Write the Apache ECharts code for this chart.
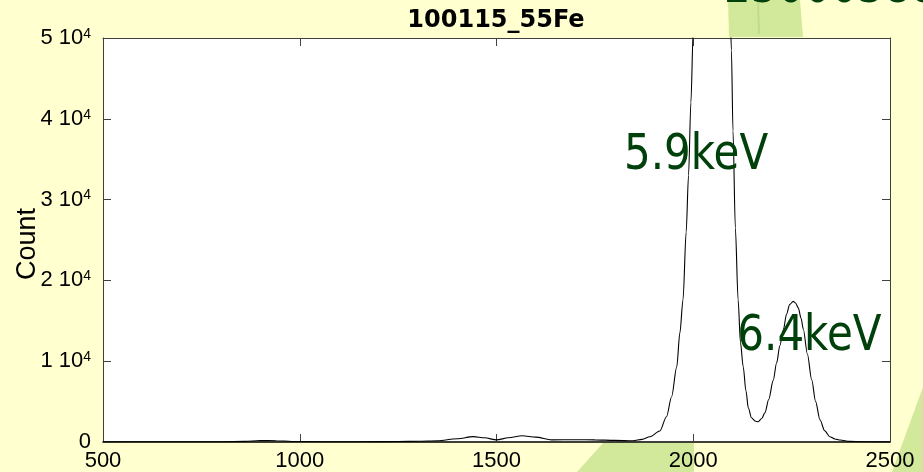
<!DOCTYPE html>
<html>
<head>
<meta charset="utf-8">
<script src="https://cdn.jsdelivr.net/npm/echarts@6/dist/echarts.min.js"></script>
<style>
html,body{margin:0;padding:0;background:#FFFFD0;}
#c{width:923px;height:472px;}
</style>
</head>
<body>
<div id="c"></div>
<script>
// ---- data ----
const titleText = '100115_55Fe';
const yAxisName = 'Count';
const xTicks = [500, 1000, 1500, 2000, 2500];
const yTicks = [0, 10000, 20000, 30000, 40000, 50000];

const channels = [500, 600, 700, 800, 860, 900, 940, 980, 1050, 1150, 1250, 1300, 1350, 1400,
  1441, 1470, 1500, 1530, 1565, 1600, 1640, 1700, 1750, 1800, 1847, 1870, 1890, 1915, 1932,
  1945, 1958, 1966, 1974, 1982, 1988, 1994, 2000, 2010, 2020, 2030, 2040, 2047, 2055, 2065,
  2075, 2085, 2093, 2097, 2101, 2107, 2114, 2120, 2127, 2134, 2140, 2148, 2157, 2165, 2174,
  2182, 2192, 2203, 2212, 2220, 2229, 2237, 2245, 2254, 2260, 2267, 2274, 2280, 2290, 2301,
  2311, 2322, 2334, 2347, 2360, 2373, 2398, 2430, 2470, 2500];
const counts = [20, 25, 30, 40, 80, 180, 160, 70, 40, 40, 60, 90, 160, 400,
  660, 520, 260, 520, 780, 600, 260, 280, 260, 200, 150, 330, 650, 1360, 3130,
  5600, 9300, 13500, 17600, 26000, 33000, 42000, 51000, 80000, 110000, 138000, 150000, 152000, 149000, 130000,
  105000, 72000, 55000, 48500, 38500, 26500, 17600, 12300, 9300, 6300, 4200, 3000, 2600, 2500, 2900,
  3600, 5300, 7600, 9800, 11900, 13900, 15800, 17000, 17400, 17200, 16600, 15300, 13900, 10900, 7700,
  5000, 2750, 1400, 650, 380, 250, 80, 30, 20, 20];

// peak annotations: left-middle anchor of each label, in data units
const annotationLabels = ['5.9keV', '6.4keV'];
const annotationChannels = [1824, 2112];
const annotationCounts = [35350, 12970];

// ---- chart ----
const data = channels.map((c, i) => [c, counts[i]]);
const chart = echarts.init(document.getElementById('c'), null, {renderer: 'canvas'});

const frameColor = '#404040';
const green = '#D2E99C';
const darkGreen = '#00400A';

function boxAxis(extra) {
  return Object.assign({
    type: 'value',
    splitLine: {show: false},
    axisLine: {show: true, onZero: false, lineStyle: {color: frameColor, width: 1}},
    axisTick: {show: true, inside: true, length: 8, lineStyle: {color: frameColor, width: 1}},
    minorTick: {show: false}
  }, extra);
}

const option = {
  backgroundColor: '#FFFFD0',
  animation: false,
  title: {
    text: titleText,
    left: 491,
    textAlign: 'center',
    top: 4,
    textStyle: {fontFamily: 'DejaVu Sans', fontWeight: 'bold', fontSize: 24, color: '#000'}
  },
  grid: {
    left: 103, right: 33, top: 38, bottom: 30,
    show: true, backgroundColor: '#ffffff', borderWidth: 0,
    containLabel: false,
    outerBoundsMode: 'none'
  },
  xAxis: [
    boxAxis({
      position: 'bottom', min: xTicks[0], max: xTicks[xTicks.length - 1], interval: xTicks[1] - xTicks[0],
      axisLine: {show: true, onZero: false, lineStyle: {color: '#000', width: 1.5}},
      axisLabel: {margin: 8, fontSize: 22, fontFamily: 'Liberation Sans', color: '#000',
        formatter: function (v) { return String(v); }}
    }),
    boxAxis({
      position: 'top', min: xTicks[0], max: xTicks[xTicks.length - 1], interval: xTicks[1] - xTicks[0],
      axisLabel: {show: false}
    })
  ],
  yAxis: [
    boxAxis({
      position: 'left', min: yTicks[0], max: yTicks[yTicks.length - 1], interval: yTicks[1] - yTicks[0],
      name: yAxisName, nameLocation: 'middle', nameGap: 62, nameMoveOverlap: false,
      nameTextStyle: {fontSize: 27, fontFamily: 'Liberation Sans', color: '#000', padding: [0, 8, 0, 0]},
      axisLabel: {
        margin: 12, fontSize: 22, fontFamily: 'Liberation Sans', color: '#000',
        formatter: function (v) {
          if (v === 0) return '0';
          return '{n|' + (v / 10000) + ' 10}{s|4}';
        },
        rich: {
          n: {fontSize: 22, fontFamily: 'Liberation Sans', color: '#000'},
          s: {fontSize: 14, fontFamily: 'Liberation Sans', color: '#000', verticalAlign: 'top'}
        }
      }
    }),
    boxAxis({
      position: 'right', min: yTicks[0], max: yTicks[yTicks.length - 1], interval: yTicks[1] - yTicks[0],
      axisLabel: {show: false}
    })
  ],
  series: [{
    type: 'line',
    data: data,
    xAxisIndex: 0, yAxisIndex: 0,
    showSymbol: false,
    smooth: 0.3,
    smoothMonotone: 'x',
    clip: true,
    lineStyle: {color: '#000', width: 1.1},
    z: 3
  }],
  graphic: [
    {type: 'polygon', id: 'bgTop', z: -10, silent: true,
      shape: {points: [[728, 0], [800, 0], [803, 37], [729, 37]]}, style: {fill: green}},
    {type: 'polyline', id: 'bgTopLine', z: -9, silent: true,
      shape: {points: [[758, 0], [759, 34]]}, style: {stroke: '#BEDD88', lineWidth: 2}},
    {type: 'polygon', id: 'bgBottom', z: -10, silent: true,
      shape: {points: [[577, 472], [603, 443], [694, 443], [694, 472]]}, style: {fill: green}},
    {type: 'polygon', id: 'bgRight', z: -10, silent: true,
      shape: {points: [[892, 472], [923, 472], [923, 387]]}, style: {fill: green}},
    {type: 'text', id: 'topText', z: 10, silent: true, x: 724, y: -11, scaleX: 0.84, scaleY: 1,
      style: {text: '23000388', fontSize: 50, fontFamily: 'DejaVu Sans', fill: darkGreen,
        align: 'left', verticalAlign: 'middle'}}
  ]
};
chart.setOption(option);

// place the peak labels at their data positions
const annoGraphics = annotationLabels.map((lab, i) => {
  const p = chart.convertToPixel({xAxisIndex: 0, yAxisIndex: 0}, [annotationChannels[i], annotationCounts[i]]);
  return {
    type: 'text', id: 'anno' + i, z: 10, silent: true,
    x: p[0], y: p[1], scaleX: 0.84, scaleY: 1,
    style: {text: lab, fontSize: 50, fontFamily: 'DejaVu Sans', fill: darkGreen,
      align: 'left', verticalAlign: 'middle'}
  };
});
chart.setOption({graphic: annoGraphics});
</script>
</body>
</html>
